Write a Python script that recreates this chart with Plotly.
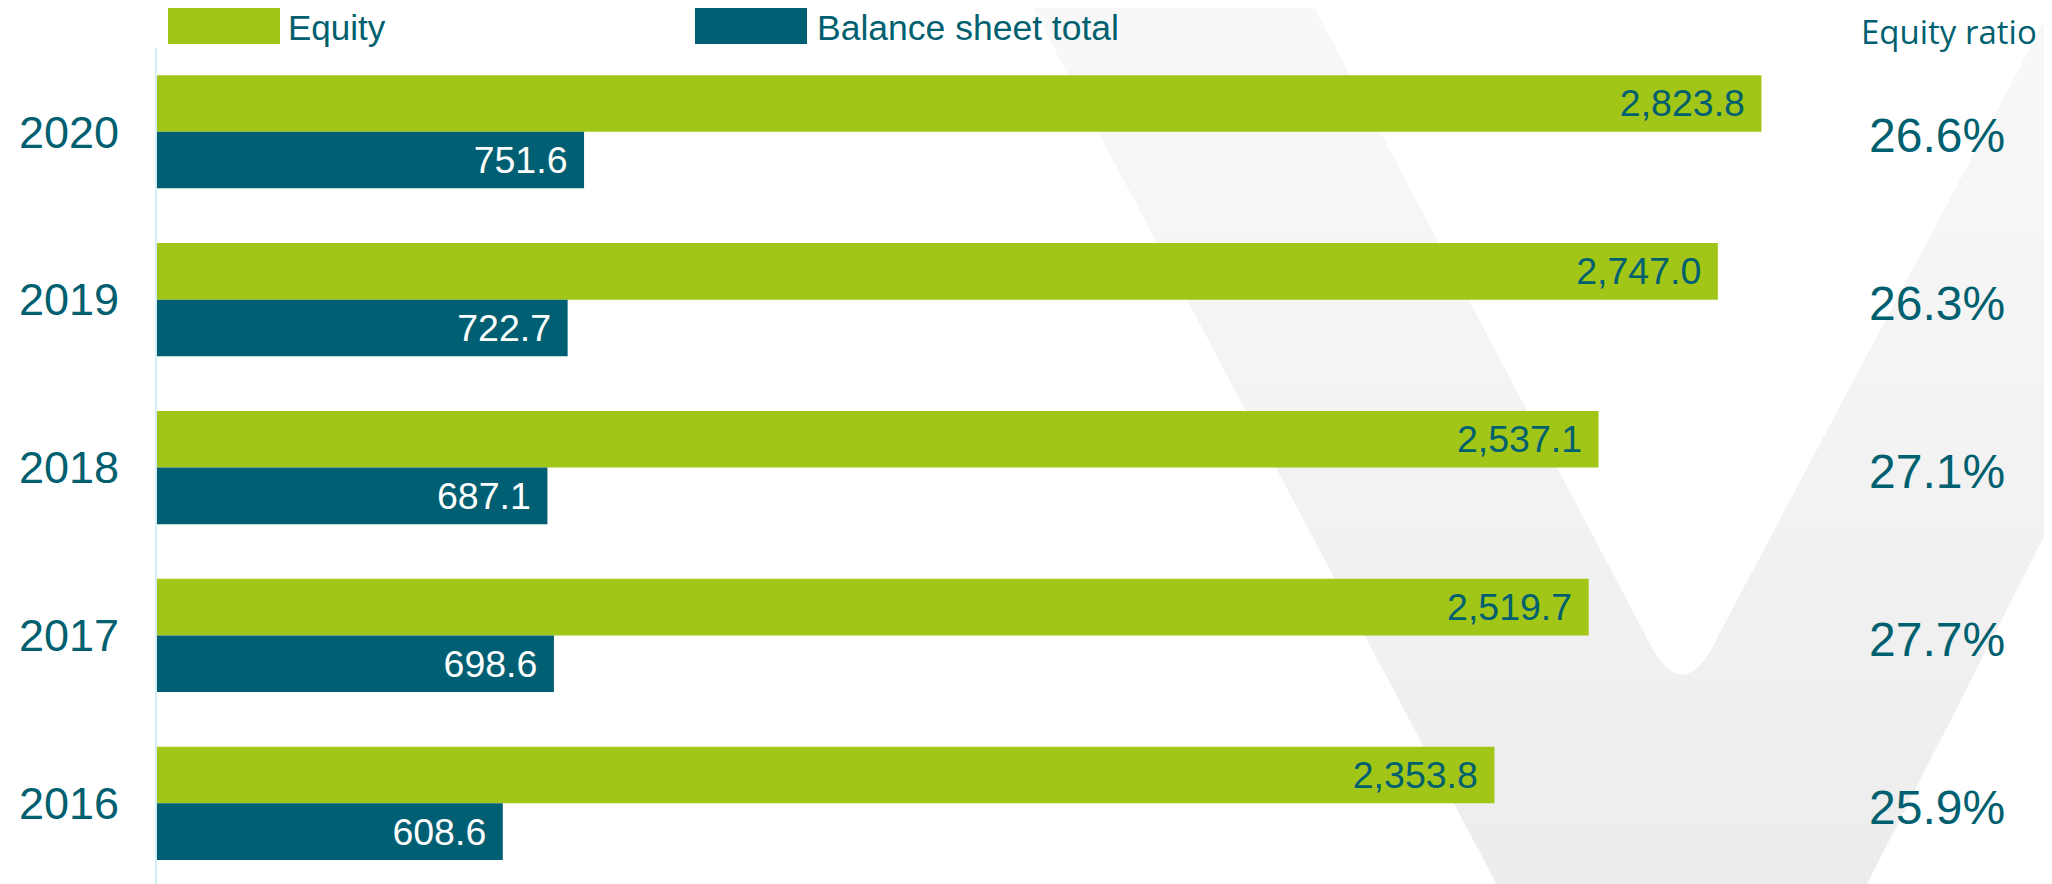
import plotly.graph_objects as go

# ---------------- data ----------------
years = ["2020", "2019", "2018", "2017", "2016"]
equity = [2823.8, 2747.0, 2537.1, 2519.7, 2353.8]
balance_sheet_total = [751.6, 722.7, 687.1, 698.6, 608.6]
equity_ratio = [26.6, 26.3, 27.1, 27.7, 25.9]
series_names = ["Equity", "Balance sheet total"]
ratio_header = "Equity ratio"

# ---------------- style ----------------
W, H = 2052, 884
OFF = 8  # page body margin offset
GREEN = "#A2C617"
TEAL = "#005F73"
TEXT_TEAL = "#00606F"
FONT = "Liberation Sans, Arial, sans-serif"


def px(x):
    return (x - OFF) / W


def py(y):
    return 1 - (y - OFF) / H


fig = go.Figure()

fig.add_trace(go.Bar(
    name=series_names[0], y=years, x=equity, orientation="h",
    marker=dict(color=GREEN, line=dict(width=0)),
    texttemplate="%{x:,.1f}\u00a0\u200a", textposition="inside",
    insidetextanchor="end",
    textfont=dict(family=FONT, size=37.5, color=TEXT_TEAL),
    hoverinfo="skip", showlegend=False,
))
fig.add_trace(go.Bar(
    name=series_names[1], y=years, x=balance_sheet_total, orientation="h",
    marker=dict(color=TEAL, line=dict(width=0)),
    texttemplate="%{x:,.1f}\u00a0\u200a", textposition="inside",
    insidetextanchor="end",
    textfont=dict(family=FONT, size=37.5, color="white"),
    hoverinfo="skip", showlegend=False,
))

# ---------------- background "V" decoration ----------------
def bez(p0, c, p1, n=16):
    pts = []
    for i in range(n + 1):
        t = i / n
        x = (1 - t) ** 2 * p0[0] + 2 * (1 - t) * t * c[0] + t ** 2 * p1[0]
        y = (1 - t) ** 2 * p0[1] + 2 * (1 - t) * t * c[1] + t ** 2 * p1[1]
        pts.append((x, y))
    return pts


v_poly = [(1029, 0), (1310, 0)] + bez((1645, 635), (1682, 715), (1719, 635)) + \
    [(2056, 0), (2316, 0), (1859, 900), (1505, 900)]


def clip_top(poly, b):
    out = []
    for i in range(len(poly)):
        cur, prev = poly[i], poly[i - 1]
        cin, pin = cur[1] <= b, prev[1] <= b

        def inter():
            t = (b - prev[1]) / (cur[1] - prev[1])
            return (prev[0] + t * (cur[0] - prev[0]), b)
        if cin:
            if not pin:
                out.append(inter())
            out.append(cur)
        elif pin:
            out.append(inter())
    return out


def to_path(poly):
    return "M " + " L ".join(f"{px(x):.5f},{py(y):.5f}" for x, y in poly) + " Z"


shapes = []
levels = 12
for k in range(levels):
    b = 900 - k * (H / levels)
    poly = clip_top(v_poly, b)
    if len(poly) < 3:
        continue
    g = 237 + round(k * 11 / (levels - 1))
    shapes.append(dict(type="path", path=to_path(poly), xref="paper", yref="paper",
                       fillcolor=f"rgb({g},{g},{g})", line=dict(width=0), layer="below"))

# ---------------- custom legend ----------------
shapes.append(dict(type="rect", xref="paper", yref="paper", x0=px(168), x1=px(280),
                   y0=py(44), y1=py(8), fillcolor=GREEN, line=dict(width=0)))
shapes.append(dict(type="rect", xref="paper", yref="paper", x0=px(695), x1=px(807),
                   y0=py(44), y1=py(8), fillcolor=TEAL, line=dict(width=0)))

annotations = [
    dict(text=series_names[0], x=px(287), y=py(27.5), xref="paper", yref="paper",
         xanchor="left", yanchor="middle", borderpad=0, showarrow=False,
         font=dict(family=FONT, size=35, color=TEXT_TEAL)),
    dict(text=series_names[1], x=px(816), y=py(27.5), xref="paper", yref="paper",
         xanchor="left", yanchor="middle", borderpad=0, showarrow=False,
         font=dict(family=FONT, size=35.5, color=TEXT_TEAL)),
    dict(text=ratio_header, x=px(1949), y=py(31), xref="paper", yref="paper",
         xanchor="center", yanchor="middle", borderpad=0, showarrow=False,
         font=dict(family="Open Sans, sans-serif", size=33, color=TEXT_TEAL)),
]
for i, r in enumerate(equity_ratio):
    annotations.append(dict(text=f"{r:.1f}%", x=px(1937), y=i, xref="paper", yref="y",
                            xanchor="center", yanchor="middle", yshift=-4, showarrow=False,
                            font=dict(family=FONT, size=48, color=TEXT_TEAL)))

scale = 0.5682  # px per unit
fig.update_layout(
    width=W, height=H, autosize=False,
    margin=dict(l=0, r=0, t=0, b=0, pad=0),
    paper_bgcolor="white", plot_bgcolor="rgba(0,0,0,0)",
    barmode="group", bargap=0.326, bargroupgap=0,
    shapes=shapes, annotations=annotations,
    xaxis=dict(domain=[px(157), 1], range=[0, (W + OFF - 157) / scale], visible=False,
               showgrid=False, zeroline=False, fixedrange=True),
    yaxis=dict(domain=[py(887.3), py(47.8)], type="category", categoryorder="array",
               categoryarray=years, range=[4.5, -0.5], showgrid=False, zeroline=False,
               showline=True, linecolor="#D3EEF6", linewidth=2, ticks="",
               ticklabelstandoff=27,
               tickfont=dict(family=FONT, size=45, color=TEXT_TEAL), fixedrange=True),
    showlegend=False,
)

fig.write_html("out.html")
